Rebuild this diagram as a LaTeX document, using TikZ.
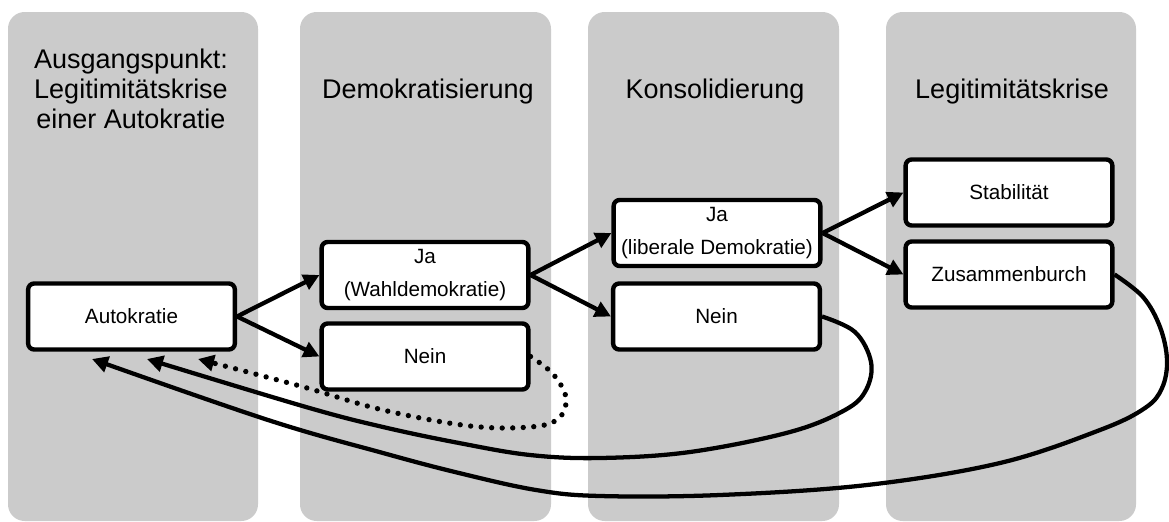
\documentclass[tikz,border=0pt]{standalone}
\usepackage{fontspec}
\setmainfont{Liberation Sans}
\usetikzlibrary{arrows.meta}
\definecolor{colbg}{RGB}{203,203,203}
\begin{document}
\begin{tikzpicture}[x=0.75pt,y=-0.75pt,
  colbox/.style={fill=colbg, rounded corners=12.5pt},
  heading/.style={font=\fontsize{20.25pt}{22.5pt}\selectfont, align=center, inner sep=0pt},
  stage/.style={draw=black, line width=3.3pt, fill=white, rounded corners=4.5pt,
    minimum width=155pt, minimum height=49.5pt, inner sep=0pt, align=center,
    font=\fontsize{15.5pt}{24.75pt}\selectfont},
  arr/.style={line width=3.2pt, -{Triangle[length=12pt,width=12pt]}},
  retline/.style={arr, line join=round},
  dotret/.style={retline, line cap=round, dash pattern=on 0pt off 7.9pt, line width=4pt}
]
\useasboundingbox (0,0) rectangle (1169,521);

% columns
\fill[colbox] (8,12) rectangle (258,521);
\fill[colbox] (300,12) rectangle (551,521);
\fill[colbox] (588,12) rectangle (839,521);
\fill[colbox] (886,12) rectangle (1136,521);

% headings
\node[heading, anchor=north] (h1) at (131,49) {Ausgangspunkt:\\Legitimitätskrise\\einer Autokratie};
\node[heading, anchor=base] (h2) at (428,98) {Demokratisierung};
\node[heading, anchor=base] (h3) at (715,98) {Konsolidierung};
\node[heading, anchor=base] (h4) at (1012,98) {Legitimitätskrise};

% stages
\node[stage] (auto) at (131.5,316.5) {Autokratie};
\node[stage] (jaw) at (425,275) {Ja\\(Wahldemokratie)};
\node[stage] (neinw) at (425,356.5) {Nein};
\node[stage] (jal) at (717,233) {Ja\\(liberale Demokratie)};
\node[stage] (neinl) at (716.5,316.5) {Nein};
\node[stage] (stab) at (1009,192.5) {Stabilität};
\node[stage] (zus) at (1009,274.5) {Zusammenburch};

% forward arrows
\draw[arr] (auto.east) -- (jaw.west);
\draw[arr] (auto.east) -- (neinw.west);
\draw[arr] (jaw.east) -- (jal.west);
\draw[arr] (jaw.east) -- (neinl.west);
\draw[arr] (jal.east) -- (stab.west);
\draw[arr] (jal.east) -- (zus.west);

% return ends
\coordinate (tipd) at (198,359);
\coordinate (tipl) at (147,359);
\coordinate (tipz) at (92,359);

% return curves
\draw[dotret] plot[smooth, tension=0.6] coordinates {(neinw.east) (553,374) (566,398) (558,419) (530,427) (470,426) (383,410) (300,386) (tipd)};
\draw[retline] plot[smooth, tension=0.6] coordinates {(neinl.east) (855,332) (871,362) (866,390) (845,410) (790,432) (690,452) (600,458) (530,455) (459,443) (383,427) (306,407) (tipl)};
\draw[retline] plot[smooth, tension=0.6] coordinates {(zus.east) (1143,297) (1160,327) (1167,360) (1162,388) (1145,408) (1100,430) (1000,463) (867,485) (720,495) (600,496) (536,490) (459,473) (383,453) (268,420) (tipz)};
\end{tikzpicture}
\end{document}
